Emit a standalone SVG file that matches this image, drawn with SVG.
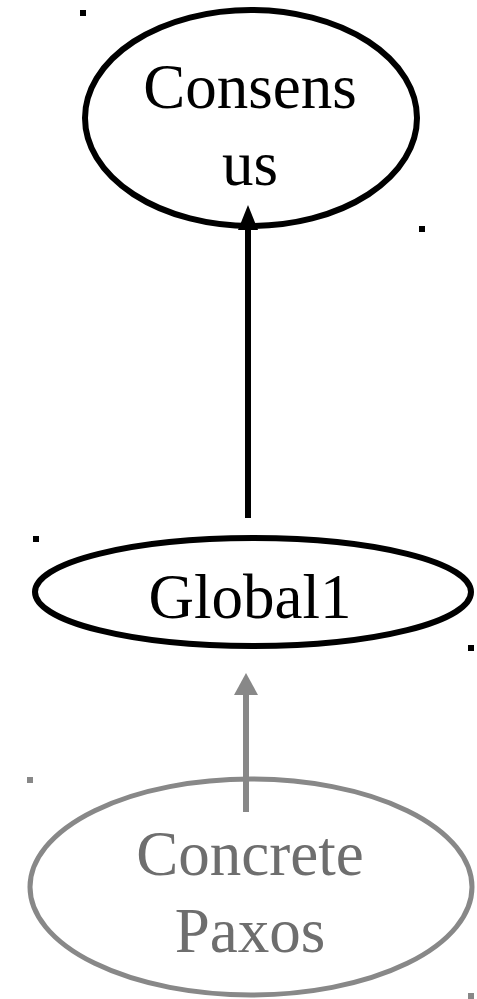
<svg xmlns="http://www.w3.org/2000/svg" width="477" height="999" viewBox="0 0 477 999">
<style>
.lbl{font-family:"Liberation Serif","Times New Roman",serif;font-size:63px;text-anchor:middle}
.dk{fill:#000}
.gr{fill:#6e6e6e}
</style>
<rect width="477" height="999" fill="#fff"/>
<g id="connectors">
<line x1="248" y1="518" x2="248" y2="222" stroke="#000" stroke-width="6"/>
<path d="M238,230 L248,205 L258,230 Z" fill="#000"/>
<line x1="246" y1="812" x2="246" y2="690" stroke="#888" stroke-width="6"/>
<path d="M234,695 L246,673 L258,695 Z" fill="#888"/>
</g>
<g id="consensus">
<ellipse cx="251" cy="118" rx="166" ry="108" fill="none" stroke="#000" stroke-width="6"/>
<text class="lbl dk" x="250" y="108">Consens</text>
<text class="lbl dk" x="250" y="185">us</text>
<rect x="80" y="10" width="6" height="6" fill="#000"/>
<rect x="419" y="226" width="6" height="6" fill="#000"/>
</g>
<g id="global1">
<ellipse cx="253" cy="592" rx="218" ry="54" fill="none" stroke="#000" stroke-width="6"/>
<text class="lbl dk" x="250" y="618">Global1</text>
<rect x="33" y="536" width="6" height="6" fill="#000"/>
<rect x="468" y="645" width="6" height="6" fill="#000"/>
</g>
<g id="concrete-paxos">
<ellipse cx="251" cy="887" rx="221" ry="108" fill="none" stroke="#888" stroke-width="5"/>
<text class="lbl gr" x="250" y="875">Concrete</text>
<text class="lbl gr" x="250" y="952">Paxos</text>
<rect x="27" y="777" width="6" height="6" fill="#888"/>
<rect x="468" y="993" width="6" height="6" fill="#888"/>
</g>
</svg>
